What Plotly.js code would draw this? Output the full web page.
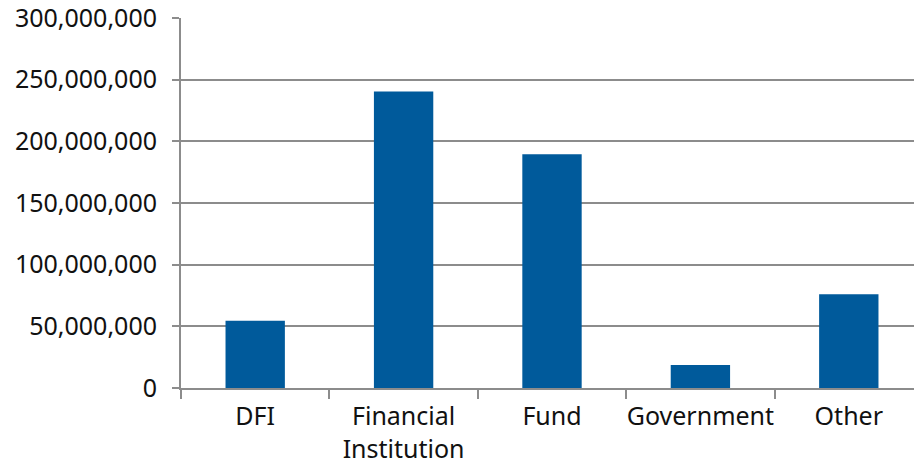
<!DOCTYPE html>
<html>
<head>
<meta charset="utf-8">
<script src="https://cdn.plot.ly/plotly-3.0.1.min.js"></script>
<style>
html,body{margin:0;padding:0;overflow:hidden;background:#fff;}
#chart{width:923px;height:464px;}
</style>
</head>
<body>
<div id="chart"></div>
<script>
const categories = ["DFI", "Financial<br>Institution", "Fund", "Government", "Other"];
const values = [54500000, 240500000, 189600000, 18600000, 76000000];
const tickValues = [0, 50000000, 100000000, 150000000, 200000000, 250000000, 300000000];
const tickLabels = ["0", "50,000,000", "100,000,000", "150,000,000", "200,000,000", "250,000,000", "300,000,000"];

const trace = {
  type: "bar",
  x: categories,
  y: values,
  marker: {color: "#005a9b"},
  width: 0.4,
  hoverinfo: "x+y"
};

const layout = {
  width: 923,
  height: 464,
  margin: {l: 181, r: 0, t: 18, b: 76},
  paper_bgcolor: "#ffffff",
  plot_bgcolor: "#ffffff",
  font: {family: "Noto Sans, Open Sans, sans-serif", size: 25, color: "#111111"},
  showlegend: false,
  bargap: 0.6,
  xaxis: {
    type: "category",
    showgrid: false,
    showline: true,
    linecolor: "#8c8c8c",
    linewidth: 2,
    ticks: "outside",
    tickson: "boundaries",
    ticklen: 9,
    tickwidth: 2,
    tickcolor: "#8c8c8c",
    zeroline: false,
    tickangle: 0,
    tickfont: {size: 25, color: "#111111"},
    ticklabelstandoff: 5
  },
  yaxis: {
    range: [0, 300000001],
    tickvals: tickValues,
    ticktext: tickLabels,
    ticklabeloverflow: "allow",
    showgrid: true,
    gridcolor: "#8c8c8c",
    gridwidth: 2,
    showline: true,
    linecolor: "#8c8c8c",
    linewidth: 2,
    ticks: "outside",
    ticklen: 7,
    tickwidth: 2,
    tickcolor: "#8c8c8c",
    zeroline: false,
    tickfont: {size: 25, color: "#111111"},
    ticklabelstandoff: 10
  }
};

Plotly.newPlot("chart", [trace], layout, {displayModeBar: false, staticPlot: true});
</script>
</body>
</html>
